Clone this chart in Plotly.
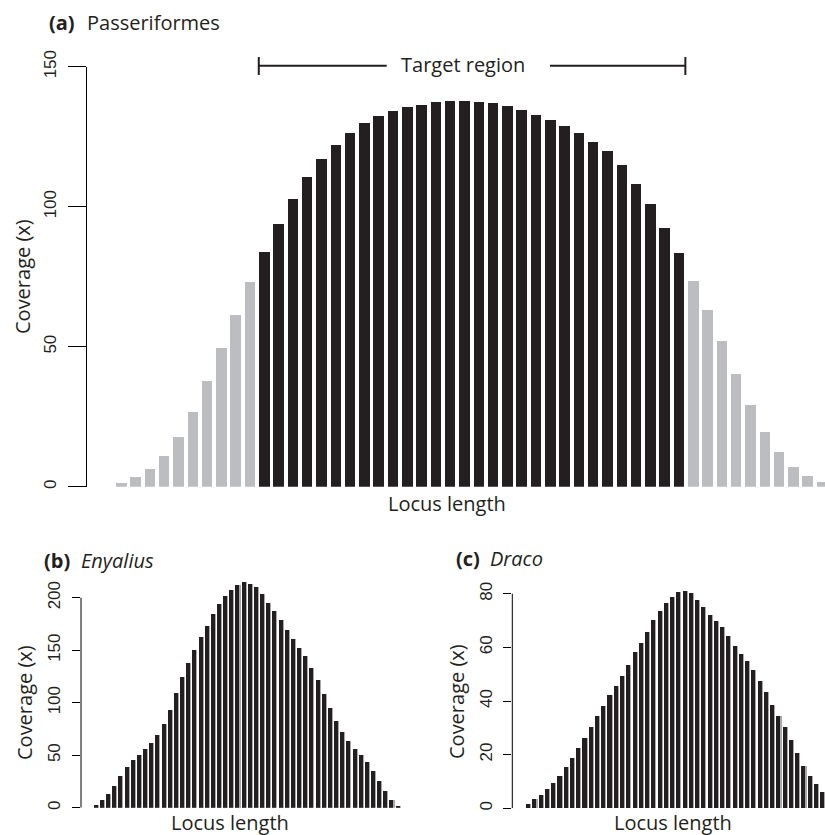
import plotly.graph_objects as go

# ---------------- data ----------------
# (a) Passeriformes: coverage per position along locus (50 bins)
passer_cov = [1.5, 3.5, 6.4, 11.1, 17.9, 26.8, 37.7, 49.5, 61.5, 73.1,
              84.0, 93.9, 102.9, 110.7, 117.0, 122.1, 126.5, 130.0, 132.5, 134.2,
              135.6, 136.3, 137.4, 137.9, 137.9, 137.6, 137.1, 136.2, 134.6, 132.7,
              131.0, 128.8, 126.3, 123.2, 119.9, 114.9, 108.3, 101.1, 92.5, 83.6,
              73.6, 63.1, 52.0, 40.2, 29.3, 19.8, 12.4, 7.0, 3.8, 1.8]
target_start = 11   # first bin of target region
target_end = 40     # last bin of target region

# (b) Enyalius
enyalius_cov = [2.5, 7.3, 13.3, 21.3, 30.2, 39.0, 46.0, 50.8, 55.9, 61.9,
                69.5, 80.0, 93.7, 109.5, 124.8, 138.1, 150.8, 162.9, 173.0, 185.0,
                194.6, 201.6, 207.3, 212.0, 214.9, 213.7, 210.5, 203.5, 195.6, 187.3,
                178.7, 169.8, 161.3, 152.7, 144.4, 133.7, 121.6, 108.9, 95.6, 82.9,
                72.4, 63.8, 56.5, 50.8, 43.8, 35.6, 25.7, 16.2, 7.9, 1.6]

# (c) Draco (bins visible within the figure)
draco_cov = [1.5, 3.4, 5.0, 7.1, 9.6, 12.2, 15.4, 18.9, 22.5, 26.2,
             30.3, 34.3, 38.3, 42.4, 45.6, 49.3, 53.4, 58.4, 61.7, 65.8,
             70.2, 73.7, 76.4, 78.8, 80.6, 81.0, 80.1, 77.6, 75.2, 72.0,
             69.8, 67.7, 64.2, 60.6, 57.5, 55.0, 51.6, 47.6, 43.4, 38.6,
             34.5, 30.4, 25.5, 20.7, 15.9, 12.2, 8.9, 6.0]

a_ticks = [0, 50, 100, 150]
b_ticks = [0, 50, 100, 150, 200]
c_ticks = [0, 20, 40, 60, 80]

# ---------------- style ----------------
W, H = 825, 835
BLACK = "#231f20"
GRAY = "#bcbdc0"
TITLE_FONT = "Open Sans"
TICK_FONT = "Liberation Sans"

a_x = list(range(1, len(passer_cov) + 1))
b_x = list(range(1, len(enyalius_cov) + 1))
c_x = list(range(1, len(draco_cov) + 1))

a_colors = [BLACK if target_start <= i <= target_end else GRAY for i in a_x]

def px(x):
    return x / W

def py(y):
    return 1 - y / H

fig = go.Figure()

A_W = 0.73
fig.add_trace(go.Bar(x=a_x, y=passer_cov, width=A_W, marker=dict(color=a_colors, line=dict(width=0)),
                     xaxis="x", yaxis="y", showlegend=False))

BW = 0.65
for xs, ys, xa, ya in [(b_x, enyalius_cov, "x2", "y2"), (c_x, draco_cov, "x3", "y3")]:
    fig.add_trace(go.Bar(x=xs, y=ys, width=0.82, offset=-BW / 2, marker=dict(color="#aaaaaa", line=dict(width=0)),
                         xaxis=xa, yaxis=ya, showlegend=False))
    fig.add_trace(go.Bar(x=xs, y=ys, width=BW, offset=-BW / 2, marker=dict(color=BLACK, line=dict(width=0)),
                         xaxis=xa, yaxis=ya, showlegend=False))

hidden_x = dict(showline=False, showticklabels=False, ticks="", showgrid=False, zeroline=False,
                automargin=False)

def yax(domain, rng, ticks, ticklen, size, anchor, showline, standoff):
    return dict(domain=domain, range=rng, tickvals=ticks, ticks="outside", ticklen=ticklen,
                tickwidth=1, tickcolor="black", showline=showline, linecolor="black", linewidth=1,
                showgrid=False, zeroline=False, tickangle=-90, anchor=anchor, automargin=False,
                tickfont=dict(family=TICK_FONT, size=size, color="#231f20"),
                ticklabelstandoff=standoff)

fig.update_layout(
    template="none",
    width=W, height=H, margin=dict(l=0, r=0, t=0, b=0, pad=0), autosize=False,
    paper_bgcolor="white", plot_bgcolor="white", barmode="overlay", bargap=0,
    xaxis=dict(domain=[px(86.7), 1.0], range=[1 + (86.7 - 121) / 14.3, 1 + (825 - 121) / 14.3],
               anchor="y", **hidden_x),
    yaxis=yax([py(486.7), py(66.7)], [0, 150], a_ticks, 18, 17, "x", True, 5),
    xaxis2=dict(domain=[px(81), px(405)], range=[1 + (81 - 95.8) / 6.16, 1 + (405 - 95.8) / 6.16],
                anchor="y2", **hidden_x),
    yaxis2=yax([py(807.7), py(576.7)], [0, 220], b_ticks, 8, 17, "x2", False, 5),
    xaxis3=dict(domain=[px(512.3), 1.0], range=[1 + (512.3 - 528.5) / 6.255, 1 + (825 - 528.5) / 6.255],
                anchor="y3", **hidden_x),
    yaxis3=yax([py(808.3), py(583.0)], [0, 84], c_ticks, 8, 17, "x3", False, 5),
)

shapes = []
# y-axis lines for (b) and (c) spanning only the tick range
shapes.append(dict(type="line", xref="x2 domain", yref="y2", x0=0, x1=0, y0=0, y1=b_ticks[-1],
                   line=dict(color="black", width=1)))
shapes.append(dict(type="line", xref="x3 domain", yref="y3", x0=0, x1=0, y0=0, y1=c_ticks[-1],
                   line=dict(color="black", width=1)))
# target region bracket
t_left = target_start - A_W / 2
t_right = target_end + A_W / 2 + 0.1
bracket_y = py(65.7)
lc = dict(color=BLACK, width=2)
shapes += [
    dict(type="line", xref="x", yref="paper", x0=t_left, x1=1 + (386.7 - 121) / 14.3, y0=bracket_y, y1=bracket_y, line=lc),
    dict(type="line", xref="x", yref="paper", x0=1 + (550 - 121) / 14.3, x1=t_right, y0=bracket_y, y1=bracket_y, line=lc),
    dict(type="line", xref="x", yref="paper", x0=t_left, x1=t_left, y0=py(57), y1=py(75), line=lc),
    dict(type="line", xref="x", yref="paper", x0=t_right, x1=t_right, y0=py(57), y1=py(75), line=lc),
]
fig.update_layout(shapes=shapes)

TF = dict(family=TITLE_FONT, size=20, color=BLACK)
ann = []
def add(text, x, y, xanchor="center", yanchor="middle", angle=0, font=TF):
    ann.append(dict(text=text, x=px(x), y=py(y), xref="paper", yref="paper", xanchor=xanchor,
                    yanchor=yanchor, textangle=angle, showarrow=False, font=font))

add("Target region", 463, 64)
# panel titles
add("<b>(a)</b>", 47, 22, xanchor="left")
add("Passeriformes", 85, 22, xanchor="left")
add("<b>(b)</b>", 42, 560, xanchor="left")
add("<i>Enyalius</i>", 79, 560, xanchor="left")
add("<b>(c)</b>", 454, 558, xanchor="left")
add("<i>Draco</i>", 488, 558, xanchor="left")
# axis titles
add("Coverage (x)", 22, 277, angle=-90)
add("Coverage (x)", 24, 703, angle=-90)
add("Coverage (x)", 456, 702, angle=-90)
add("Locus length", 447, 503)
add("Locus length", 230, 822)
add("Locus length", 673, 822)
fig.update_layout(annotations=ann)

fig.write_html("out.html", config={"displayModeBar": False},
               post_script="document.body.style.margin='0px';document.body.style.overflow='hidden';")
